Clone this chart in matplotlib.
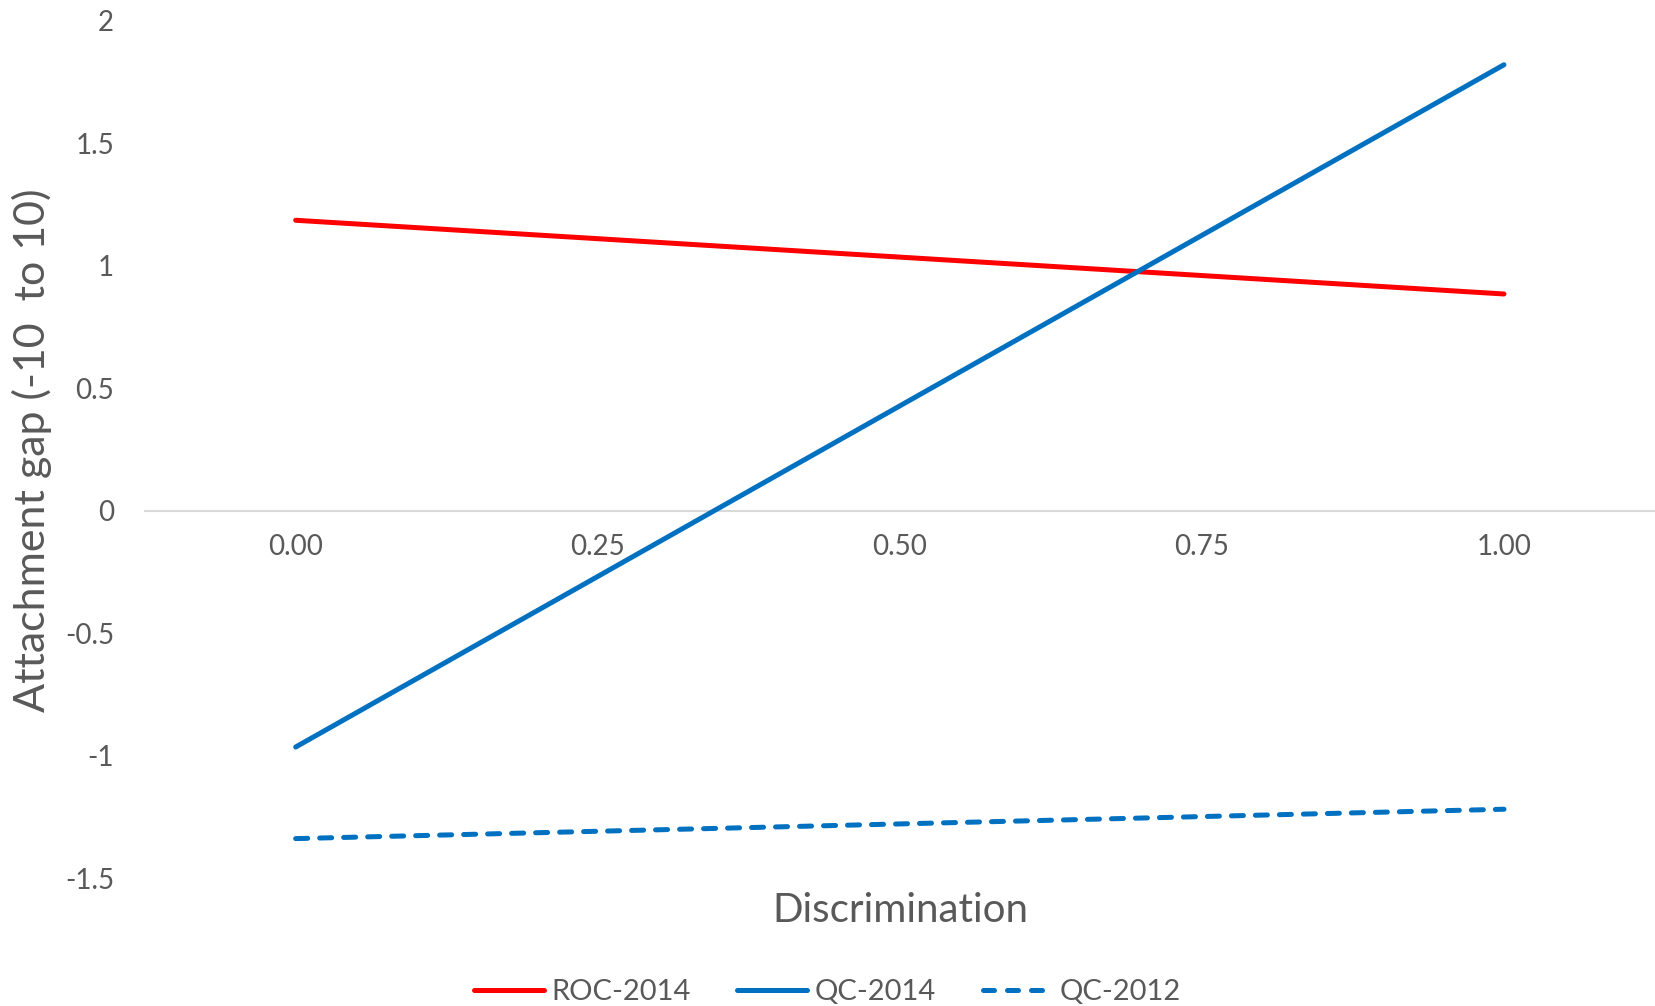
import matplotlib
matplotlib.use("Agg")
import matplotlib.pyplot as plt

# Discrimination levels and predicted attachment gap per sample
discrimination = [0.0, 1.0]
roc_2014 = [1.186, 0.885]
qc_2014 = [-0.965, 1.821]
qc_2012 = [-1.339, -1.219]

x_ticks = [0.0, 0.25, 0.50, 0.75, 1.00]
x_tick_labels = ["0.00", "0.25", "0.50", "0.75", "1.00"]
y_ticks = [-1.5, -1, -0.5, 0, 0.5, 1, 1.5, 2]
y_tick_labels = ["-1.5", "-1", "-0.5", "0", "0.5", "1", "1.5", "2"]

TEXT = "#595959"
RED = "#FF0000"
BLUE = "#0070C0"

plt.rcParams["font.family"] = ["Lato", "DejaVu Sans"]

fig = plt.figure(figsize=(16.55, 10.06), dpi=100)
ax = fig.add_axes([0.0874, 0.1272, 0.9126, 0.852])

lw = 3.6
l1, = ax.plot(discrimination, roc_2014, color=RED, lw=lw, solid_capstyle="round", label="ROC-2014")
l2, = ax.plot(discrimination, qc_2014, color=BLUE, lw=lw, solid_capstyle="round", label="QC-2014")
l3, = ax.plot(discrimination, qc_2012, color=BLUE, lw=lw, linestyle=(0, (2.4, 2.4)),
              dash_capstyle="round", label="QC-2012")

ax.set_xlim(-0.125, 1.125)
ax.set_ylim(-1.5, 2)

for side in ("top", "right", "left"):
    ax.spines[side].set_visible(False)
ax.spines["bottom"].set_position(("data", 0))
ax.spines["bottom"].set_color("#D9D9D9")
ax.spines["bottom"].set_linewidth(1.5)
ax.spines["bottom"].set_zorder(0)

ax.set_xticks(x_ticks)
ax.set_xticklabels(x_tick_labels)
ax.set_yticks(y_ticks)
ax.set_yticklabels(y_tick_labels)
ax.tick_params(axis="x", length=0, pad=17, labelsize=20, labelcolor=TEXT)
ax.tick_params(axis="y", length=0, pad=22, labelsize=20, labelcolor=TEXT)

fig.text(900 / 1655, 1 - 910 / 1006, "Discrimination", ha="center", va="center",
         fontsize=29, color=TEXT)
fig.text(31.7 / 1655, 1 - 450 / 1006, "Attachment gap (-10  to 10)", ha="center", va="center",
         rotation=90, fontsize=31, color=TEXT)

leg = fig.legend(handles=[l1, l2, l3], loc="center", bbox_to_anchor=(0.5, 1 - 992 / 1006),
                 ncol=3, frameon=False, fontsize=21, handlelength=2.4, handletextpad=0.25,
                 columnspacing=1.6, labelcolor=TEXT)
dash_handle = leg.get_lines()[2]
dash_handle.set_linestyle((0, (2.2, 2.6)))
dash_handle.set_dash_capstyle("round")

fig.savefig("out.png", dpi=100)
